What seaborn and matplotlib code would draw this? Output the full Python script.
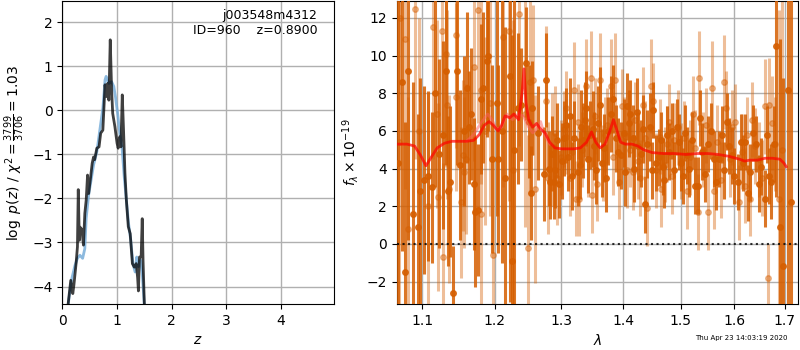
# redshift fit summary: p(z) on the left, spectrum + model on the right
import numpy as np
import pandas as pd
import matplotlib
matplotlib.use('Agg')
import matplotlib.pyplot as plt
from matplotlib.ticker import ScalarFormatter, NullLocator, NullFormatter
import seaborn as sns

# ---- p(z) ----
z_chi = [0.10, 0.153, 0.19, 0.21, 0.25, 0.275, 0.29, 0.31, 0.32, 0.355, 0.385, 0.41, 0.435, 0.46,
         0.48, 0.51, 0.545, 0.57, 0.59, 0.63, 0.67, 0.70, 0.74, 0.78, 0.80, 0.83, 0.85, 0.875, 0.90,
         0.92, 0.96, 1.00, 1.02, 1.05, 1.07, 1.095, 1.12, 1.144, 1.17, 1.205, 1.24, 1.28, 1.315,
         1.35, 1.376, 1.39, 1.41, 1.44, 1.46, 1.475, 1.50]
logp_chi = [-4.45, -3.86, -4.16, -3.97, -3.48, -3.10, -1.80, -2.95, -2.65, -2.70, -3.06, -2.34,
            -2.04, -1.47, -1.89, -1.58, -1.20, -1.06, -1.12, -0.86, -0.83, -0.52, -0.45, 0.58,
            0.31, 0.61, 0.23, 1.60, 0.46, -0.07, -0.37, -0.75, -0.86, -0.60, -0.83, 0.35, -0.52,
            -1.43, -2.04, -2.64, -2.80, -3.48, -3.56, -3.48, -3.80, -4.10, -3.33, -3.33, -2.46,
            -3.41, -4.45]
z_fit = [0.11, 0.17, 0.23, 0.275, 0.32, 0.37, 0.41, 0.435, 0.48, 0.52, 0.57, 0.63, 0.69, 0.74,
         0.78, 0.80, 0.85, 0.90, 0.94, 0.97, 1.01, 1.05, 1.09, 1.13, 1.17, 1.21, 1.25, 1.29,
         1.33, 1.36, 1.39, 1.43, 1.46, 1.50]
logp_fit = [-4.36, -3.83, -3.52, -3.36, -3.29, -3.36, -3.14, -2.45, -1.92, -1.62, -1.24, -0.94,
            -0.40, 0.05, 0.69, 0.77, 0.61, 0.65, 0.54, 0.31, -0.07, -0.52, -0.83, -1.50, -2.04,
            -2.57, -2.95, -3.48, -3.67, -3.33, -3.55, -3.40, -3.70, -4.45]

# ---- spectrum, first beam (darker) ----
wave_a = [1.068, 1.074, 1.078, 1.082, 1.088, 1.094, 1.097, 1.102, 1.108, 1.113, 1.117, 1.122,
          1.128, 1.132, 1.135, 1.138, 1.142, 1.147, 1.151, 1.156, 1.161, 1.163, 1.166, 1.170,
          1.172, 1.176, 1.181, 1.184, 1.189, 1.191, 1.196, 1.204, 1.205, 1.210, 1.215, 1.222,
          1.225, 1.228, 1.234, 1.239, 1.246, 1.251, 1.254, 1.255, 1.264, 1.273, 1.277, 1.281,
          1.283, 1.288, 1.290, 1.301, 1.304, 1.317, 1.320, 1.326, 1.334, 1.337, 1.339, 1.343,
          1.351, 1.352, 1.361, 1.365, 1.380, 1.384, 1.392, 1.396, 1.410, 1.412, 1.424, 1.426,
          1.431, 1.438, 1.446, 1.456, 1.461, 1.468, 1.476, 1.484, 1.493, 1.500, 1.512, 1.520,
          1.526, 1.532, 1.535, 1.556, 1.562, 1.571, 1.587, 1.590, 1.608, 1.612, 1.621, 1.626,
          1.643, 1.653, 1.660, 1.672, 1.678, 1.683, 1.690, 1.697, 1.706, 1.713,
          1.286, 1.294, 1.297, 1.308, 1.311, 1.314, 1.329, 1.331, 1.346, 1.356, 1.358, 1.369,
          1.372, 1.375, 1.388, 1.401, 1.404, 1.407, 1.416, 1.419, 1.434, 1.441, 1.450, 1.452,
          1.465, 1.471, 1.480, 1.488, 1.497, 1.505, 1.508, 1.516, 1.540, 1.545, 1.550, 1.566,
          1.576, 1.581, 1.596, 1.600, 1.616, 1.631, 1.636, 1.648, 1.665, 1.668]
flux_a = [4.3, 8.6, -1.5, 9.2, 1.6, 0.9, 2.8, 3.4, 3.6, 3.0, 8.0, 4.8,
          5.8, 9.2, 2.8, 3.3, -2.6, 9.2, 4.2, 6.0, 8.3, 6.2, 6.9, 3.2,
          1.7, 1.8, 7.7, 8.3, 9.7, 10.0, 4.5, 7.5, 4.5, 6.0, 3.5, 8.9,
          -0.9, 5.0, 7.2, 7.4, 9.6, 6.5, 2.7, 7.2, 5.9, 3.7, 8.7, 4.0,
          3.3, 3.3, 3.9, 4.4, 5.6, 3.6, 5.6, 3.8, 5.5, 6.6, 7.2, 4.5,
          6.1, 5.2, 7.4, 4.3, 6.9, 7.7, 4.9, 4.7, 6.4, 6.9, 7.0, 5.2,
          4.8, 2.1, 6.2, 4.3, 4.6, 4.1, 5.8, 6.0, 6.2, 4.3, 4.7, 5.5,
          3.1, 3.1, 6.7, 6.0, 4.5, 4.5, 6.5, 5.2, 3.3, 5.4, 5.4, 2.7,
          5.3, 4.1, 2.4, 3.3, 5.3, 10.5, 0.9, -1.2, 8.2, 2.2,
          4.8, 5.5, 3.2, 6.3, 4.6, 6.8, 4.2, 6.2, 5.8, 3.9, 6.4, 5.1,
          3.5, 6.0, 5.6, 5.9, 3.8, 7.3, 5.6, 4.0, 6.1, 5.3, 3.9, 7.1,
          5.5, 3.4, 4.9, 3.9, 5.4, 3.6, 5.9, 4.0, 4.9, 3.7, 5.3, 3.3,
          5.8, 3.9, 4.7, 3.6, 4.3, 3.8, 5.9, 3.2, 5.8, 3.6]
err_a = [10, 9, 8, 9, 7, 6, 6, 5, 4.5, 4, 5, 5,
         5, 5, 4, 4, 2.5, 5, 4, 4, 4, 3, 3.5, 3.5,
         4, 3.5, 4, 4, 4, 4, 5, 6, 5, 7, 8, 12,
         12, 10, 4, 3, 3, 3, 2.5, 2.5, 2.5, 2.5, 2.5, 2,
         2, 2, 2, 2, 2, 1.8, 2, 1.8, 2, 2, 2, 1.8,
         2, 1.8, 2, 1.8, 2, 1.8, 1.8, 1.8, 1.8, 1.8, 1.8, 1.8,
         1.8, 1.5, 1.8, 1.5, 1.5, 1.5, 1.5, 1.5, 1.5, 1.5, 1.5, 1.5,
         1.5, 1.5, 1.5, 1.5, 1.5, 1.5, 1.5, 1.5, 1.5, 1.5, 1.5, 1.5,
         1.5, 1.5, 1.5, 2, 2, 8, 10, 10, 12, 12,
         2, 2, 1.8, 2, 1.8, 2, 1.8, 2, 1.8, 1.8, 2, 1.8,
         1.8, 1.8, 1.8, 1.8, 1.8, 1.8, 1.8, 1.8, 1.8, 1.8, 1.5, 1.5,
         1.5, 1.5, 1.5, 1.5, 1.5, 1.5, 1.5, 1.5, 1.5, 1.5, 1.5, 1.5,
         1.5, 1.5, 1.5, 1.5, 1.5, 1.5, 1.5, 1.5, 1.5, 1.5]

# ---- spectrum, second beam (lighter) ----
wave_b = [1.070, 1.071, 1.077, 1.081, 1.090, 1.096, 1.108, 1.115, 1.120, 1.121, 1.126, 1.128,
          1.132, 1.133, 1.136, 1.145, 1.146, 1.152, 1.155, 1.156, 1.160, 1.171, 1.176, 1.180,
          1.181, 1.186, 1.193, 1.198, 1.212, 1.221, 1.226, 1.235, 1.244, 1.249, 1.252, 1.257,
          1.259, 1.277, 1.280, 1.286, 1.294, 1.307, 1.308, 1.313, 1.320, 1.323, 1.328, 1.339,
          1.347, 1.348, 1.357, 1.362, 1.370, 1.380, 1.387, 1.394, 1.398, 1.407, 1.416, 1.429,
          1.434, 1.441, 1.447, 1.451, 1.463, 1.465, 1.472, 1.480, 1.489, 1.512, 1.522, 1.531,
          1.534, 1.541, 1.551, 1.557, 1.562, 1.580, 1.585, 1.602, 1.609, 1.630, 1.634, 1.648,
          1.660, 1.667, 1.668, 1.674, 1.688, 1.695,
          1.290, 1.300, 1.304, 1.316, 1.326, 1.333, 1.343, 1.353, 1.366, 1.374, 1.384, 1.402,
          1.411, 1.420, 1.425, 1.438, 1.456, 1.476, 1.484, 1.495, 1.500, 1.506, 1.517, 1.527,
          1.546, 1.568, 1.574, 1.591, 1.596, 1.614, 1.620, 1.625, 1.640, 1.654, 1.680]
flux_b = [5.4, 12.0, 10.9, 0.8, 12.5, 6.0, 2.0, 11.5, 6.9, 2.5, 11.3, -0.7,
          10.1, 7.4, 2.9, 11.1, 7.8, 2.2, 4.7, 3.8, 4.5, 9.4, 12.4, 1.6,
          8.2, 6.0, 7.5, -0.6, 11.0, 11.3, 3.9, 12.2, 6.9, -0.2, 8.6, 8.7,
          2.9, 7.6, 3.5, 5.0, 3.5, 7.2, 5.7, 3.5, 8.2, 2.4, 2.4, 8.4,
          8.8, 2.6, 3.2, 8.7, 5.8, 8.4, 8.7, 3.3, 7.3, 3.9, 3.8, 3.5,
          7.4, 1.9, 8.4, 7.6, 5.7, 2.9, 4.2, 6.5, 5.5, 2.8, 6.9, 1.7,
          8.8, 5.0, 1.7, 8.3, 2.8, 8.6, 7.2, 6.5, 2.2, 2.4, 6.6, 4.5,
          7.3, -1.8, 7.4, 6.4, 2.4, 5.0,
          5.9, 4.6, 6.1, 4.9, 6.5, 5.0, 4.5, 6.8, 4.3, 6.3, 4.6, 5.8,
          5.0, 6.6, 4.4, 5.6, 3.9, 5.3, 3.6, 6.2, 4.4, 5.6, 4.6, 5.1,
          6.3, 5.4, 3.4, 4.5, 6.2, 4.9, 3.1, 5.8, 5.2, 3.5, 5.3]
err_b = [9, 8, 8, 7, 8, 6, 6, 7, 5, 5, 6, 5,
         6, 5, 5, 6, 5, 4, 4, 4, 4, 5, 6, 5,
         5, 5, 6, 7, 8, 9, 8, 7, 6, 6, 6, 4,
         5, 4, 3, 3, 2.5, 2, 2, 2, 2.5, 2, 2, 2.5,
         2.5, 2, 2, 2.5, 2, 2.5, 2.5, 2, 2, 2, 2, 2,
         2, 2, 2.5, 2, 2, 2, 2, 2, 2, 2, 2, 2,
         2.5, 2, 2, 2.5, 2, 2.5, 2, 2, 2, 2, 2, 2,
         2.5, 1.8, 2.5, 2.5, 10, 12,
         2.5, 2, 2, 2, 2, 2, 2, 2, 2, 2, 2, 2,
         2, 2, 2, 2, 2, 2, 2, 2, 2, 2, 2, 2,
         2, 2, 2, 2, 2, 2, 2, 2, 2, 2, 2.5]

# ---- best-fit model ----
wave_m = [1.068, 1.080, 1.090, 1.098, 1.105, 1.112, 1.120, 1.130, 1.140, 1.150, 1.160, 1.170,
          1.178, 1.185, 1.192, 1.198, 1.205, 1.210, 1.215, 1.222, 1.228, 1.235, 1.240, 1.243,
          1.246, 1.250, 1.256, 1.262, 1.268, 1.275, 1.282, 1.290, 1.300, 1.310, 1.320, 1.330,
          1.340, 1.348, 1.355, 1.362, 1.370, 1.378, 1.384, 1.390, 1.396, 1.404, 1.415, 1.425,
          1.435, 1.450, 1.470, 1.490, 1.510, 1.530, 1.550, 1.570, 1.590, 1.610, 1.620, 1.630,
          1.645, 1.660, 1.675, 1.690, 1.698, 1.703]
flux_m = [5.3, 5.3, 5.2, 4.7, 4.15, 4.6, 5.1, 5.35, 5.45, 5.45, 5.45, 5.5,
          5.8, 6.3, 6.5, 6.3, 6.0, 6.3, 6.8, 6.7, 6.9, 6.6, 8.0, 9.3,
          7.5, 6.6, 6.2, 6.4, 6.1, 5.9, 5.4, 5.1, 5.05, 5.05, 5.05, 5.1,
          5.4, 5.95, 5.4, 5.1, 5.3, 6.0, 6.6, 6.0, 5.4, 5.3, 5.3, 5.2,
          5.0, 4.85, 4.8, 4.8, 4.75, 4.8, 4.8, 4.75, 4.65, 4.5, 4.4, 4.45,
          4.45, 4.55, 4.55, 4.5, 4.3, 4.1]
wave_m2 = [1.160, 1.170, 1.180, 1.190, 1.196, 1.203, 1.210, 1.218, 1.226, 1.234, 1.242, 1.250,
           1.256, 1.262, 1.268, 1.274, 1.282]
flux_m2 = [5.45, 5.8, 6.4, 6.9, 6.6, 6.1, 6.2, 6.9, 6.6, 6.9, 6.8, 6.2,
           5.9, 6.1, 6.5, 5.8, 5.3]

grism_color = '#d55e00'

fig = plt.figure(figsize=(8, 3.5), dpi=100)
ax1 = fig.add_axes([0.078, 0.131, 0.339, 0.866])
ax2 = fig.add_axes([0.496, 0.131, 0.502, 0.866])

# left panel
sns.lineplot(x=z_fit, y=logp_fit, ax=ax1, sort=False, color='#6fa8d6', lw=2, alpha=0.8)
sns.lineplot(x=z_chi, y=logp_chi, ax=ax1, sort=False, color='k', lw=2, alpha=0.75)
ax1.set_xlim(0, 4.96)
ax1.set_ylim(-4.40, 2.48)
ax1.set_xticks([0, 1, 2, 3, 4])
ax1.set_xlabel(r'$z$')
ax1.set_ylabel(r'$\log\ p(z)$ / $\chi^2=\frac{3799}{3706}=1.03$')
ax1.text(0.94, 0.975, 'j003548m4312\nID=960    z=0.8900', transform=ax1.transAxes,
         ha='right', va='top', fontsize=9)
ax1.grid(color='#b0b0b0', lw=1)

# right panel
ax2.errorbar(wave_b, flux_b, yerr=err_b, marker='o', ms=4, linestyle='none',
             color=grism_color, alpha=0.4, elinewidth=2.2, zorder=2)
ax2.errorbar(wave_a, flux_a, yerr=err_a, marker='o', ms=4, linestyle='none',
             color=grism_color, alpha=0.85, elinewidth=2.2, zorder=3)
sns.lineplot(x=wave_m2, y=flux_m2, ax=ax2, sort=False, color='#ff6060', lw=2, alpha=0.5, zorder=4)
sns.lineplot(x=wave_m, y=flux_m, ax=ax2, sort=False, color='red', lw=2, alpha=0.7, zorder=5)
ax2.plot([1.067, 1.728], [0, 0], color='k', linestyle=':', lw=1.5, alpha=0.8, zorder=6)

ax2.set_xscale('log')
ax2.set_xlim(1.067, 1.728)
ax2.set_ylim(-3.2, 12.9)
ax2.set_xticks([1.1, 1.2, 1.3, 1.4, 1.5, 1.6, 1.7])
ax2.xaxis.set_major_formatter(ScalarFormatter())
ax2.xaxis.set_minor_locator(NullLocator())
ax2.xaxis.set_minor_formatter(NullFormatter())
ax2.set_yticks([-2, 0, 2, 4, 6, 8, 10, 12])
ax2.set_xlabel(r'$\lambda$')
ax2.set_ylabel(r'$f_\lambda \times 10^{-19}$')
ax2.grid(color='#b0b0b0', lw=1)

fig.text(0.984, 0.025, 'Thu Apr 23 14:03:19 2020', ha='right', va='bottom', fontsize=5)

fig.savefig('out.png', dpi=100)
